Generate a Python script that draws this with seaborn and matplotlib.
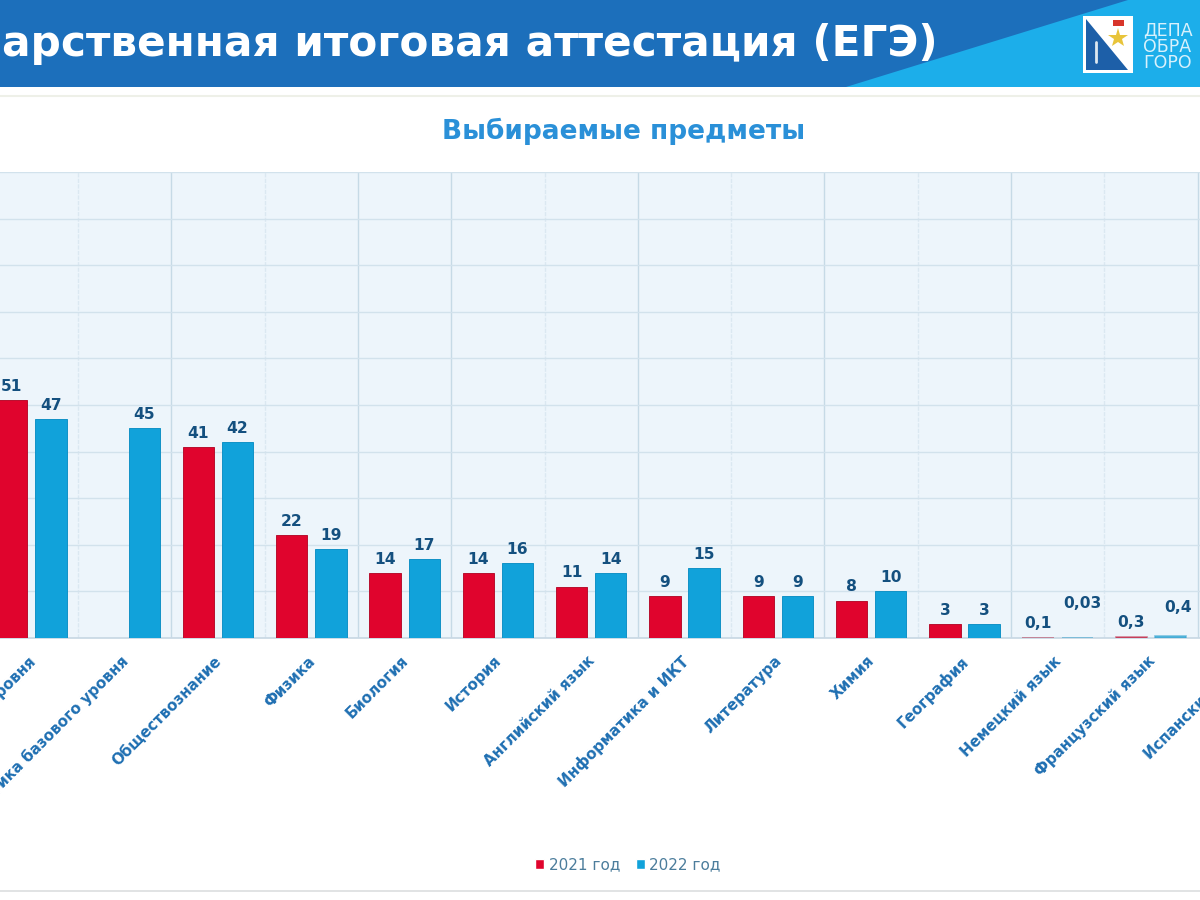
import numpy as np
import pandas as pd
import matplotlib
matplotlib.use("Agg")
import matplotlib.pyplot as plt
from matplotlib.patches import Polygon, Rectangle
from matplotlib.transforms import ScaledTranslation
import seaborn as sns

subjects = ["Математика профильного уровня", "Математика базового уровня", "Обществознание",
            "Физика", "Биология", "История", "Английский язык", "Информатика и ИКТ",
            "Литература", "Химия", "География", "Немецкий язык", "Французский язык", "Испанский язык"]
values_2021 = [51, np.nan, 41, 22, 14, 14, 11, 9, 9, 8, 3, 0.1, 0.3, np.nan]
values_2022 = [47, 45, 42, 19, 17, 16, 14, 15, 9, 10, 3, 0.03, 0.4, np.nan]
series_names = ["2021 год", "2022 год"]
header_text = "арственная итоговая аттестация (ЕГЭ)"
title_text = "Выбираемые предметы"
org_lines = ["ДЕПА", "ОБРА", "ГОРО"]

RED, BLUE = "#E0042D", "#11A2DA"
sns.set_theme(style="white")
plt.rcParams["font.family"] = ["DejaVu Sans"]

df = pd.DataFrame({
    "subject": subjects * 2,
    "year": [series_names[0]] * len(subjects) + [series_names[1]] * len(subjects),
    "value": values_2021 + values_2022,
})

W, H = 1200, 900
fig = plt.figure(figsize=(12, 9), dpi=100, facecolor="white")

# pixel overlay for the slide furniture
bg = fig.add_axes([0, 0, 1, 1], zorder=0)
bg.set_xlim(0, W); bg.set_ylim(H, 0); bg.axis("off")
bg.add_patch(Rectangle((0, 0), W, 87, color="#1C6FBB", lw=0))
bg.add_patch(Polygon([(846, 87), (1128, 0), (1200, 0), (1200, 87)], color="#1CAEEA", lw=0))
bg.plot([0, W], [96, 96], color="#EEF0E8", lw=1.5)
bg.plot([0, W], [891, 891], color="#DCDEDF", lw=1.2)
bg.text(938, 44, header_text, color="white", fontsize=30.4, fontweight="bold", ha="right", va="center")
bg.text(624, 131, title_text, color="#2A90D8", fontsize=19, fontweight="bold", ha="center", va="center")
for yy, line in zip([30, 47, 63], org_lines):
    bg.text(1143, yy, line, color="#D8F1FC", fontsize=12.5, ha="left", va="center")
# coat of arms
bg.add_patch(Rectangle((1083, 16), 50, 57, color="white", lw=0))
bg.add_patch(Polygon([(1086, 19), (1086, 70), (1128, 70)], color="#1D5FA8", lw=0))
bg.add_patch(Rectangle((1113, 20), 11, 6, color="#D8352A", lw=0))
bg.plot([1118], [38], marker="*", ms=15, color="#E8C43A", mew=0)
bg.plot([1096, 1096], [42, 62], color="#DDE7F0", lw=2)

# chart, extending past the right edge of the cropped slide
left, right, top, bottom = -15.3, 1291.0, 172, 638
ax = fig.add_axes([left / W, 1 - bottom / H, (right - left) / W, (bottom - top) / H], zorder=1)
ax.set_facecolor("#EDF5FB")
sns.barplot(data=df, x="subject", y="value", hue="year", order=subjects, hue_order=series_names,
            palette=[RED, BLUE], width=0.84, gap=0.2, ax=ax, legend=True, saturation=1)
ax.set_xlim(-0.5, len(subjects) - 0.5)
ax.set_ylim(0, 100)
ax.set_yticks(np.arange(0, 101, 10))
ax.set_yticklabels([])
ax.set_xlabel(""); ax.set_ylabel("")
ax.set_axisbelow(True)
ax.set_xticks(np.arange(len(subjects)))
ax.set_xticks(np.arange(len(subjects)) - 0.5, minor=True)
ax.grid(True, axis="y", color="#D2E2EC", lw=1.0)
ax.grid(True, axis="x", which="minor", color="#C6DAE6", lw=1.0)
faint = {1, 3, 6, 8, 10, 12}
for i, tick in enumerate(ax.xaxis.get_minor_ticks()):
    if i in faint:
        tick.gridline.set_color("#DBE8F1")
        tick.gridline.set_linestyle((0, (3, 1)))
ax.tick_params(axis="both", which="both", length=0)
ax.tick_params(axis="x", pad=11)
for s in ax.spines.values():
    s.set_visible(False)
ax.spines["bottom"].set_visible(True)
ax.spines["bottom"].set_color("#C8D8E4")
shift = ScaledTranslation(-4 / 100, 0, fig.dpi_scale_trans)
for t in ax.get_xticklabels():
    t.set_rotation(45)
    t.set_ha("right")
    t.set_rotation_mode("anchor")
    t.set_color("#1F6FB2")
    t.set_fontsize(10.8)
    t.set_fontweight("bold")
    t.set_transform(t.get_transform() + shift)

def label(v):
    return f"{v:g}".replace(".", ",")

extra_lift = {0.03: 14.5, 0.4: 10.5}   # points above the usual padding
extra_shift = {0.03: 3.5, 0.4: 5}      # points to the right
edge = ("#B80F2E", "#1192C6")
for cont, vals, ec in zip(ax.containers, (values_2021, values_2022), edge):
    shown = [v for v in vals if not np.isnan(v)]
    texts = ax.bar_label(cont, labels=[label(v) for v in shown], padding=4.5,
                         color="#14507F", fontsize=11.2, fontweight="bold")
    for t, v in zip(texts, shown):
        x0, y0 = t.xyann
        t.xyann = (x0 + extra_shift.get(v, 0), y0 + extra_lift.get(v, 0))
    for bar, v in zip(cont, shown):
        bar.set_zorder(3)
        bar.set_edgecolor(ec)
        bar.set_linewidth(0.7)
        if v < 1:
            bar.set_alpha(0.5)
            bar.set_linewidth(1.2)

handles, labels_ = ax.get_legend_handles_labels()
ax.get_legend().remove()
fig.legend(handles, labels_, loc="center", bbox_to_anchor=(628 / W, 1 - 865 / H), ncol=2, frameon=False,
           handlelength=0.6, handleheight=0.6, handletextpad=0.3, columnspacing=1.0,
           labelcolor="#4C7D9C", prop={"size": 11})

fig.savefig("out.png", dpi=100)
